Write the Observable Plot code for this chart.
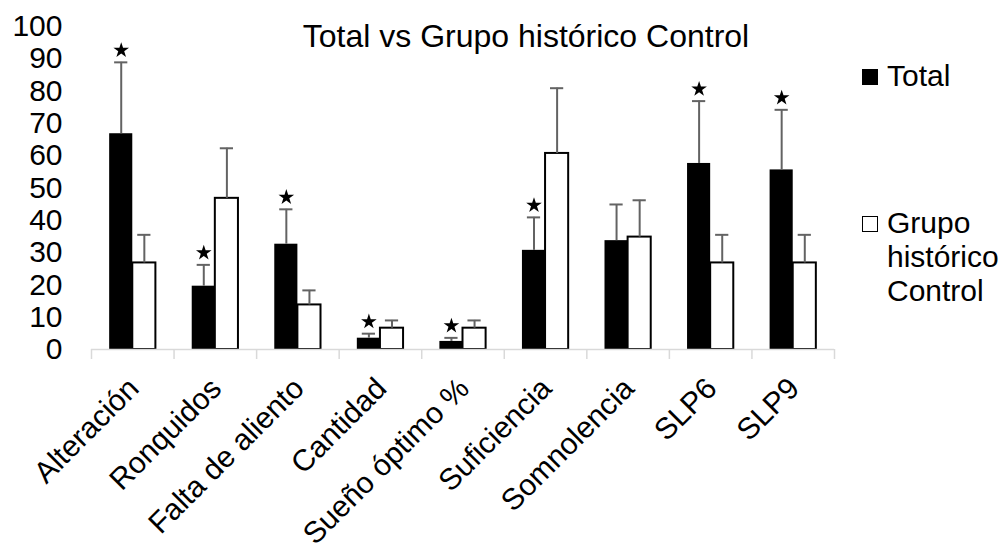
<!DOCTYPE html>
<html>
<head>
<meta charset="utf-8">
<script src="https://cdn.jsdelivr.net/npm/d3@7"></script>
<script src="https://cdn.jsdelivr.net/npm/@observablehq/plot@0.6"></script>
<style>
  html, body { margin: 0; padding: 0; background: #fff; }
  #wrap { position: relative; width: 1006px; height: 552px; overflow: hidden;
          font-family: 'Liberation Sans', Arial, sans-serif; color: #000; }
  #title { position: absolute; top: 20px; left: 526px; transform: translateX(-50%);
           font-size: 32px; line-height: 32px; white-space: nowrap; }
  .leg { position: absolute; left: 862px; font-size: 30px; line-height: 34px; }
  .leg .sw { position: absolute; left: 0; width: 16px; height: 16px; box-sizing: border-box; }
  .leg .tx { margin-left: 25px; }
</style>
</head>
<body>
<div id="wrap">
  <div id="chart"></div>
  <div id="title"></div>
  <div class="leg" id="leg0" style="top:59px"><div class="sw" style="top:10px;background:#000"></div><div class="tx"></div></div>
  <div class="leg" id="leg1" style="top:206px"><div class="sw" style="top:10px;border:1.5px solid #000;background:#fff"></div><div class="tx"></div></div>
</div>
<script>
const titleText = "Total vs Grupo histórico Control";
const categories = ["Alteración", "Ronquidos", "Falta de aliento", "Cantidad", "Sueño óptimo %", "Suficiencia", "Somnolencia", "SLP6", "SLP9"];
const seriesNames = ["Total", "Grupo histórico Control"];
const totalValues   = [66.8, 19.6, 32.6, 3.5, 2.5, 30.7, 33.7, 57.6, 55.6];
const totalErrors   = [22.1, 6.6, 10.8, 1.4, 1.1, 10.2, 11.2, 19.3, 18.6];
const controlValues = [26.8, 46.8, 13.8, 6.6, 6.6, 60.7, 34.8, 26.8, 26.8];
const controlErrors = [8.7, 15.5, 4.5, 2.4, 2.4, 20.2, 11.4, 8.7, 8.7];
const significant   = [true, true, true, true, true, true, false, true, true];
const yTicks = [0, 10, 20, 30, 40, 50, 60, 70, 80, 90, 100];

document.getElementById("title").textContent = titleText;
document.querySelector("#leg0 .tx").textContent = seriesNames[0];
document.querySelector("#leg1 .tx").innerHTML = "Grupo<br>histórico<br>Control";

const BW = 0.28; // bar width in category units
const rows = categories.flatMap((c, i) => [
  {i, series: seriesNames[0], x1: i - BW, x2: i, value: totalValues[i], err: totalErrors[i], star: significant[i]},
  {i, series: seriesNames[1], x1: i, x2: i + BW, value: controlValues[i], err: controlErrors[i], star: false}
]);
const barCenter = d => (d.x1 + d.x2) / 2;
const errTop = d => d.value + d.err;
const idx = categories.map((c, i) => i);
const boundaries = [-0.5, ...idx.map(i => i + 0.5)];

const chart = Plot.plot({
  width: 1006,
  height: 552,
  marginLeft: 91,
  marginRight: 172,
  marginTop: 26,
  marginBottom: 203,
  style: {fontFamily: "'Liberation Sans', Arial, sans-serif", fontSize: "30px", color: "#000", background: "transparent", overflow: "visible"},
  x: {type: "linear", domain: [-0.5, categories.length - 0.5]},
  y: {domain: [0, 100]},
  marks: [
    Plot.rectY(rows.filter(d => d.series === seriesNames[0]), {x1: "x1", x2: "x2", y: "value", fill: "#000"}),
    Plot.rectY(rows.filter(d => d.series === seriesNames[1]), {x1: "x1", x2: "x2", y: "value", fill: "#fff", stroke: "#000", strokeWidth: 2}),
    Plot.ruleX(rows, {x: barCenter, y1: "value", y2: errTop, stroke: "#636363", strokeWidth: 2}),
    Plot.ruleY(rows, {y: errTop, x1: d => barCenter(d) - 0.08, x2: d => barCenter(d) + 0.08, stroke: "#636363", strokeWidth: 2}),
    Plot.dot(rows.filter(d => d.star), {x: barCenter, y: errTop, symbol: "star", r: 4.9, fill: "#000", stroke: "none", dy: -12}),
    Plot.ruleY([0], {stroke: "#d9d9d9", strokeWidth: 1.5}),
    Plot.ruleX(boundaries, {x: d => d, y1: 0, y2: 0, insetBottom: -10, stroke: "#d9d9d9", strokeWidth: 1.5}),
    Plot.axisY({ticks: yTicks, tickSize: 0, tickPadding: 29, label: null, fontSize: 30}),
    Plot.axisX({ticks: idx, tickFormat: i => categories[i], tickSize: 0, tickRotate: -45, tickPadding: 34, dx: 1, label: null, fontSize: 30})
  ]
});
document.getElementById("chart").appendChild(chart);
</script>
</body>
</html>
